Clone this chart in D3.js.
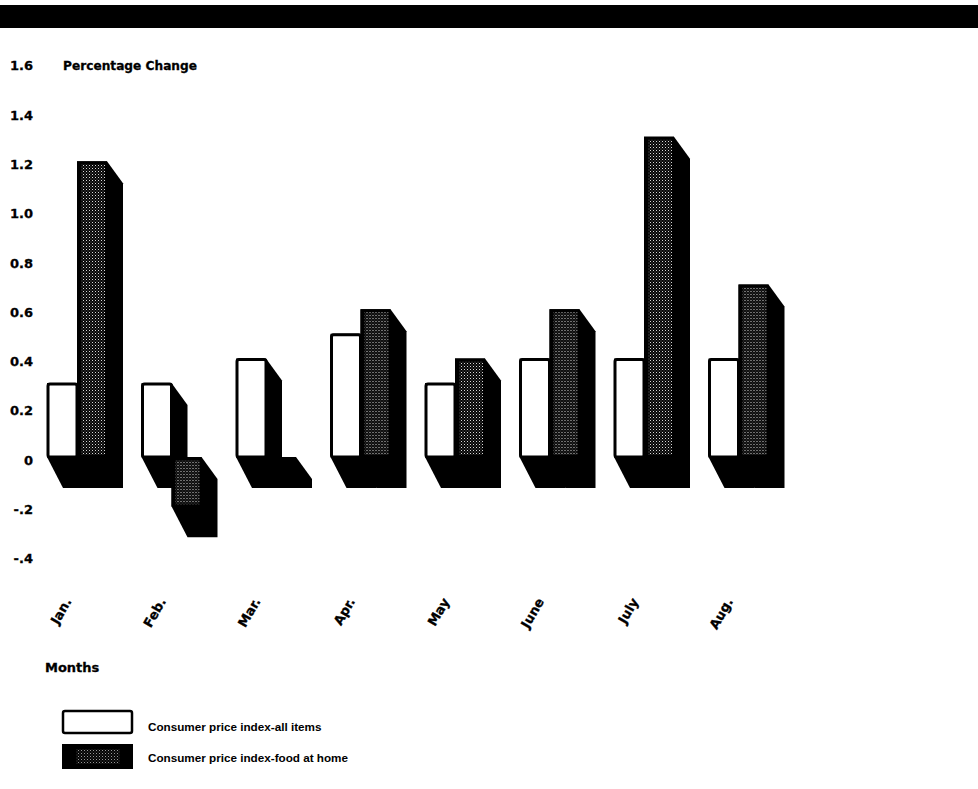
<!DOCTYPE html>
<html>
<head>
<meta charset="utf-8">
<script src="https://cdn.jsdelivr.net/npm/d3@7"></script>
<style>
  html, body { margin: 0; padding: 0; background: #fff; }
  svg { display: block; }
  .ax text { font-family: "DejaVu Sans", sans-serif; font-weight: bold; font-size: 13px; fill: #000; stroke: #000; stroke-width: 0.3px; }
</style>
</head>
<body>
<svg id="chart" width="978" height="789"></svg>
<script>
// ---- data ----
const months = ["Jan.", "Feb.", "Mar.", "Apr.", "May", "June", "July", "Aug."];
const allItems = [0.3, 0.3, 0.4, 0.5, 0.3, 0.4, 0.4, 0.4];
const foodAtHome = [1.2, -0.2, 0.0, 0.6, 0.4, 0.6, 1.3, 0.7];
const seriesNames = ["Consumer price index-all items", "Consumer price index-food at home"];
const yTickValues = [-0.4, -0.2, 0, 0.2, 0.4, 0.6, 0.8, 1.0, 1.2, 1.4, 1.6];
const yTickLabels = ["-.4", "-.2", "0", "0.2", "0.4", "0.6", "0.8", "1.0", "1.2", "1.4", "1.6"];
const yTitle = "Percentage Change";
const xTitle = "Months";

// ---- layout ----
const svg = d3.select("#chart");
const W = 978, H = 789;
const unit = 246.4, zeroY = 457;
const y = d3.scaleLinear().domain([-0.4, 1.6]).range([zeroY + 0.4 * unit, zeroY - 1.6 * unit]);
const step = 94.5, groupW = 60;
const x0 = d3.scaleBand().domain(months)
  .range([47, 47 + 7 * step + groupW]).paddingInner(1 - groupW / step).paddingOuter(0);
const x1 = d3.scaleBand().domain([0, 1]).range([0, x0.bandwidth()]).padding(0);

const depthX = 16, depthTop = 22, depthBot = 31;

// stipple pattern
const defs = svg.append("defs");
const pat = defs.append("pattern").attr("id", "stip").attr("patternUnits", "userSpaceOnUse")
  .attr("width", 3).attr("height", 3);
pat.append("rect").attr("width", 3).attr("height", 3).attr("fill", "#050505");
pat.append("rect").attr("x", 0).attr("y", 0).attr("width", 1).attr("height", 1).attr("fill", "#d8d8d8");
pat.append("rect").attr("x", 1.5).attr("y", 1.5).attr("width", 1).attr("height", 1).attr("fill", "#707070");

// top band
svg.append("rect").attr("x", 0).attr("y", 5).attr("width", W).attr("height", 23).attr("fill", "#000");

// y axis
const yAxis = d3.axisLeft(y).tickValues(yTickValues).tickSize(0).tickPadding(0)
  .tickFormat((d, i) => yTickLabels[i]);
const gy = svg.append("g").attr("class", "ax").attr("transform", "translate(33,3)").call(yAxis);
gy.select(".domain").remove();

svg.append("text")
  .attr("x", 63).attr("y", y(1.6) + 3).attr("dy", "0.32em")
  .attr("textLength", 134).attr("lengthAdjust", "spacingAndGlyphs")
  .style("font-family", "DejaVu Sans, sans-serif").style("font-weight", "bold").style("font-size", "13px")
  .style("stroke", "#000").style("stroke-width", "0.3px")
  .text(yTitle);

function extrusion(xa, xb, v) {
  const yt = Math.min(y(v), y(0)), yb = Math.max(y(v), y(0));
  return [[xa, yt], [xb, yt], [xb + depthX, yt + depthTop], [xb + depthX, yb + depthBot],
          [xa + depthX, yb + depthBot], [xa, yb]];
}
const line = d3.line();

const groups = svg.append("g").selectAll("g").data(months).join("g")
  .attr("transform", d => `translate(${x0(d)},0)`);

// white bar (all items)
groups.append("path").attr("fill", "#000")
  .attr("d", (d, i) => line(extrusion(x1(0), x1(0) + x1.bandwidth(), allItems[i])) + "Z");
groups.append("rect").attr("x", x1(0) + 1).attr("width", x1.bandwidth() - 1)
  .attr("y", (d, i) => y(allItems[i]) + 1)
  .attr("height", (d, i) => y(0) - y(allItems[i]) - 1)
  .attr("rx", 2).attr("fill", "#fff").attr("stroke", "#000").attr("stroke-width", 3);

// food bar
groups.append("path").attr("fill", "#000")
  .attr("d", (d, i) => line(extrusion(x1(1), x1(1) + x1.bandwidth(), foodAtHome[i])) + "Z");
groups.append("rect").attr("x", x1(1)).attr("width", x1.bandwidth())
  .attr("y", (d, i) => Math.min(y(foodAtHome[i]), y(0)))
  .attr("height", (d, i) => Math.abs(y(0) - y(foodAtHome[i])))
  .attr("fill", "#000");
groups.filter((d, i) => foodAtHome[i] !== 0).append("rect")
  .attr("x", x1(1) + 4).attr("width", x1.bandwidth() - 6)
  .attr("y", d => Math.min(y(foodAtHome[months.indexOf(d)]), y(0)) + 3)
  .attr("height", d => Math.max(0, Math.abs(y(0) - y(foodAtHome[months.indexOf(d)])) - 5))
  .attr("fill", "url(#stip)");

// x axis labels
const xAxis = d3.axisBottom(x0).tickSize(0).tickPadding(0);
const gx = svg.append("g").attr("class", "ax").attr("transform", "translate(0,599)").call(xAxis);
gx.select(".domain").remove();
gx.selectAll("text").attr("y", 0).attr("dy", "0.35em").attr("text-anchor", "end")
  .attr("transform", "translate(-9,0) rotate(-60)");

svg.append("text").attr("x", 45).attr("y", 667).attr("dy", "0.35em")
  .style("font-family", "DejaVu Sans, sans-serif").style("font-weight", "bold").style("font-size", "13px")
  .style("stroke", "#000").style("stroke-width", "0.3px")
  .text(xTitle);

// legend
const lg = svg.append("g");
lg.append("rect").attr("x", 63).attr("y", 711).attr("width", 69).attr("height", 22)
  .attr("rx", 2).attr("fill", "#fff").attr("stroke", "#000").attr("stroke-width", 2.5);
lg.append("rect").attr("x", 62).attr("y", 744).attr("width", 71).attr("height", 25).attr("fill", "#000");
lg.append("rect").attr("x", 76).attr("y", 749).attr("width", 44).attr("height", 15).attr("fill", "url(#stip)").attr("opacity", 0.7);
lg.selectAll("text.lt").data(seriesNames).join("text").attr("class", "lt")
  .attr("x", 148).attr("y", (d, i) => i === 0 ? 727 : 758).attr("dy", "0.35em")
  .style("font-family", "Liberation Sans, Arial, sans-serif").style("font-weight", "bold").style("font-size", "11.7px")
  .text(d => d);
</script>
</body>
</html>
